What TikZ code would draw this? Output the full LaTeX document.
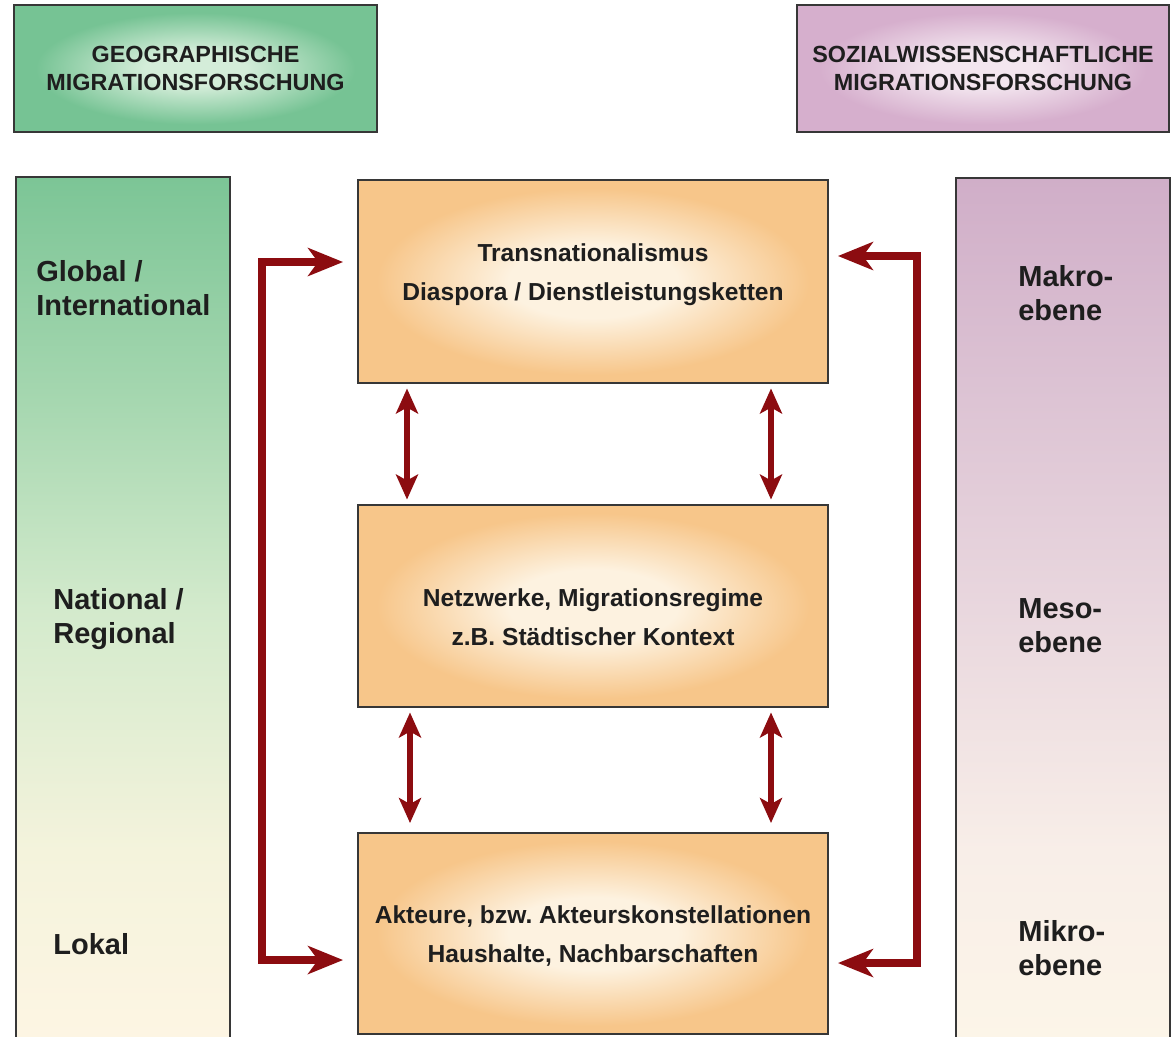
\documentclass[tikz,border=0pt]{standalone}
\usepackage{fontspec}
\setmainfont{Liberation Sans}
\usetikzlibrary{arrows.meta}
\frenchspacing
\definecolor{arrred}{RGB}{140,12,16}
\definecolor{boxline}{RGB}{55,55,55}
\definecolor{txt}{RGB}{30,30,30}
\definecolor{orout}{RGB}{247,198,138}
\definecolor{orin}{RGB}{253,242,224}
\definecolor{grout}{RGB}{118,195,148}
\definecolor{grin}{RGB}{212,237,217}
\definecolor{pkout}{RGB}{214,175,205}
\definecolor{pkin}{RGB}{243,230,239}
\definecolor{gctop}{RGB}{124,197,150}
\definecolor{gc3}{RGB}{166,215,176}
\definecolor{gc2}{RGB}{211,234,204}
\definecolor{gc1}{RGB}{244,243,220}
\definecolor{gcbot}{RGB}{253,245,227}
\definecolor{pctop}{RGB}{208,174,200}
\definecolor{pc3}{RGB}{221,196,212}
\definecolor{pc2}{RGB}{233,215,222}
\definecolor{pc1}{RGB}{248,238,232}
\definecolor{pcbot}{RGB}{252,245,232}
\pgfdeclareradialshading{orglow}{\pgfpointorigin}{color(0bp)=(orin); color(9bp)=(orin); color(23bp)=(orout); color(50bp)=(orout)}
\pgfdeclareradialshading{grglow}{\pgfpointorigin}{color(0bp)=(grin); color(7bp)=(grin); color(22bp)=(grout); color(50bp)=(grout)}
\pgfdeclareradialshading{pkglow}{\pgfpointorigin}{color(0bp)=(pkin); color(7bp)=(pkin); color(22bp)=(pkout); color(50bp)=(pkout)}
\pgfdeclareverticalshading{geograd}{100bp}{color(0bp)=(gcbot); color(25bp)=(gcbot); color(36bp)=(gc1); color(50bp)=(gc2); color(62bp)=(gc3); color(75bp)=(gctop); color(100bp)=(gctop)}
\pgfdeclareverticalshading{sozgrad}{100bp}{color(0bp)=(pcbot); color(25bp)=(pcbot); color(36bp)=(pc1); color(50bp)=(pc2); color(62bp)=(pc3); color(75bp)=(pctop); color(100bp)=(pctop)}
\begin{document}
\begin{tikzpicture}[x=0.02cm,y=-0.02cm,
  frame/.style={draw=boxline, line width=1.1pt, inner sep=0pt, outer sep=0pt, text=txt},
  headbox/.style={frame, align=center, font=\fontsize{13.3}{15.5}\selectfont\bfseries},
  colbox/.style={frame, minimum width=4.28cm, minimum height=17.26cm},
  centerbox/.style={frame, shading=orglow, minimum width=9.4cm},
  boxtext/.style={align=center, inner sep=0pt, text=txt, font=\fontsize{14}{22}\selectfont\bfseries},
  collabel/.style={anchor=west, align=left, inner sep=0pt, text=txt, font=\fontsize{16.5}{19.5}\selectfont\bfseries},
  bigarr/.style={draw=arrred, line width=0.17cm, {Stealth[length=0.7cm,width=0.56cm,inset=0.2cm]}-{Stealth[length=0.7cm,width=0.56cm,inset=0.2cm]}},
  smallarr/.style={draw=arrred, line width=0.12cm, {Stealth[length=0.5cm,width=0.44cm,inset=0.12cm]}-{Stealth[length=0.5cm,width=0.44cm,inset=0.12cm]}, shorten <=0.11cm, shorten >=0.11cm}
]
\useasboundingbox (0,0) rectangle (1172,1036);
\clip (0,0) rectangle (1172,1036);
\fill[white] (0,0) rectangle (1172,1036);

% headers
\node[headbox, shading=grglow, minimum width=7.26cm, minimum height=2.54cm] (geohead) at (195.5,68.5) {GEOGRAPHISCHE\\MIGRATIONSFORSCHUNG};
\node[headbox, shading=pkglow, minimum width=7.44cm, minimum height=2.54cm] (sozhead) at (983,68.5) {SOZIALWISSENSCHAFTLICHE\\MIGRATIONSFORSCHUNG};

% side columns
\node[colbox, shading=geograd] (geocol) at (123,608.5) {};
\node[colbox, shading=sozgrad] (sozcol) at (1063,609) {};

\node[collabel] (global) at (36,288) {Global /\\International};
\node[collabel] (national) at (53,619) {National /\\Regional};
\node[collabel] (lokal) at (53,944) {Lokal};
\node[collabel] (makro) at (1018,293) {Makro-\\ebene};
\node[collabel] (meso) at (1018,626) {Meso-\\ebene};
\node[collabel] (mikro) at (1018,948) {Mikro-\\ebene};

% center boxes
\node[centerbox, minimum height=4.06cm] (topbox) at (593,281.5) {};
\node[centerbox, minimum height=4.04cm] (midbox) at (593,606) {};
\node[centerbox, minimum height=4.02cm] (botbox) at (593,933.5) {};
\node[boxtext] (toptext) at (593,275) {Transnationalismus\\Diaspora / Dienstleistungsketten};
\node[boxtext] (midtext) at (593,617) {Netzwerke, Migrationsregime\\z.B. Städtischer Kontext};
\node[boxtext] (bottext) at (593,936) {Akteure, bzw. Akteurskonstellationen\\Haushalte, Nachbarschaften};

% outer connectors
\coordinate (la) at (262,262);
\coordinate (lb) at (262,960);
\coordinate (ra) at (917,256);
\coordinate (rb) at (917,963);
\draw[bigarr, shorten <=0.3cm, shorten >=0.3cm] (topbox.west |- la) -- (la) -- (lb) -- (botbox.west |- lb);
\draw[bigarr, shorten <=0.2cm, shorten >=0.2cm] (topbox.east |- ra) -- (ra) -- (rb) -- (botbox.east |- rb);

% inner double arrows
\coordinate (xl) at (407,0);
\coordinate (xr) at (771,0);
\coordinate (xl2) at (410,0);
\coordinate (xr2) at (771,0);
\draw[smallarr] (topbox.south -| xl) -- (midbox.north -| xl);
\draw[smallarr] (topbox.south -| xr) -- (midbox.north -| xr);
\draw[smallarr, shorten >=0.2cm] (midbox.south -| xl2) -- (botbox.north -| xl2);
\draw[smallarr, shorten >=0.2cm] (midbox.south -| xr2) -- (botbox.north -| xr2);
\end{tikzpicture}
\end{document}
